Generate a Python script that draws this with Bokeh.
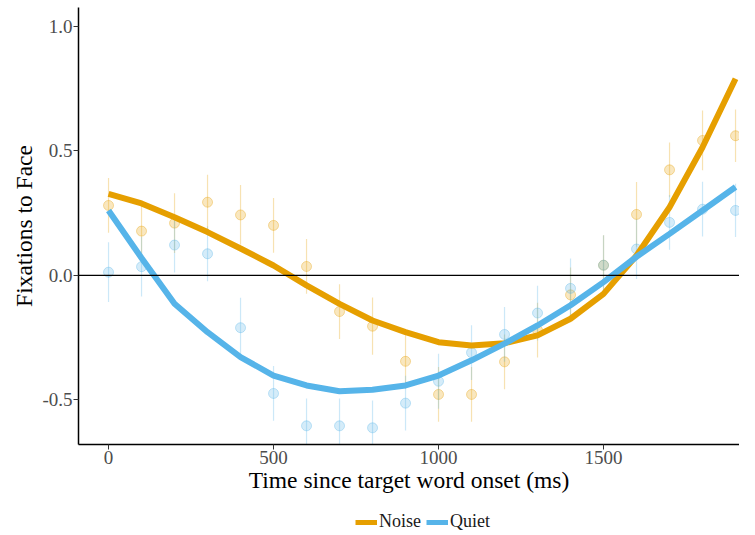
from bokeh.plotting import figure
from bokeh.layouts import column
from bokeh.models import Span, Legend, LegendItem, FixedTicker, ColumnDataSource, Range1d
from bokeh.embed import file_html
from bokeh.resources import INLINE

# ---- data ----
time_ms = [0, 100, 200, 300, 400, 500, 600, 700, 800, 900,
           1000, 1100, 1200, 1300, 1400, 1500, 1600, 1700, 1800, 1900]

noise_mean = [0.281, 0.178, 0.210, 0.294, 0.243, 0.201, 0.036, -0.145, -0.204, -0.345,
              -0.478, -0.478, -0.347, -0.220, -0.078, 0.041, 0.245, 0.424, 0.542, 0.561]
noise_se = [0.11, 0.12, 0.12, 0.11, 0.12, 0.11, 0.11, 0.11, 0.115, 0.11,
            0.11, 0.11, 0.11, 0.11, 0.11, 0.12, 0.13, 0.11, 0.12, 0.105]

quiet_mean = [0.013, 0.035, 0.122, 0.087, -0.210, -0.474, -0.604, -0.604, -0.612, -0.513,
              -0.425, -0.310, -0.237, -0.151, -0.052, 0.041, 0.106, 0.213, 0.266, 0.261]
quiet_se = [0.12, 0.12, 0.11, 0.11, 0.12, 0.11, 0.11, 0.11, 0.11, 0.11,
            0.11, 0.11, 0.11, 0.11, 0.12, 0.12, 0.12, 0.11, 0.11, 0.107]

noise_fit = [0.328, 0.289, 0.234, 0.174, 0.108, 0.040, -0.040, -0.114, -0.181, -0.228,
             -0.268, -0.281, -0.272, -0.241, -0.174, -0.074, 0.080, 0.274, 0.515, 0.790]
quiet_fit = [0.261, 0.070, -0.114, -0.228, -0.328, -0.402, -0.442, -0.465, -0.459, -0.442,
             -0.402, -0.341, -0.274, -0.201, -0.120, -0.027, 0.075, 0.167, 0.261, 0.355]

series_names = ["Noise", "Quiet"]
y_ticks = [-0.5, 0.0, 0.5, 1.0]
y_tick_labels = ["-0.5", "0.0", "0.5", "1.0"]
x_ticks = [0, 500, 1000, 1500]

ORANGE = "#E69F00"
BLUE = "#56B4E9"
COLORS = {"Noise": ORANGE, "Quiet": BLUE}
SERIF = "Liberation Serif"

p = figure(width=739, height=500, output_backend="svg", toolbar_location=None,
           x_range=Range1d(-91, 1912), y_range=Range1d(-0.679, 1.076),
           min_border_left=78, min_border_right=0, min_border_top=7, min_border_bottom=56)

p.background_fill_color = "white"
p.border_fill_color = "white"
p.outline_line_color = None
p.xgrid.grid_line_color = None
p.ygrid.grid_line_color = None

sources = {}
for name, mean, se, fit in [("Noise", noise_mean, noise_se, noise_fit),
                            ("Quiet", quiet_mean, quiet_se, quiet_fit)]:
    col = COLORS[name]
    src = ColumnDataSource(dict(
        x=time_ms, y=mean,
        lo=[m - s for m, s in zip(mean, se)],
        hi=[m + s for m, s in zip(mean, se)],
        fit=fit))
    p.segment(x0="x", y0="lo", x1="x", y1="hi", source=src,
              line_color=col, line_alpha=0.3, line_width=1.2)
    p.scatter(x="x", y="y", source=src, size=10, fill_color=col, fill_alpha=0.25,
              line_color=col, line_alpha=0.35, line_width=1)
    sources[name] = src

p.add_layout(Span(location=0, dimension="width", line_color="black", line_width=1.2))

for name in series_names:
    p.line(x="x", y="fit", source=sources[name], line_color=COLORS[name], line_width=6)

# axes
for ax in (p.xaxis[0], p.yaxis[0]):
    ax.axis_line_color = "black"
    ax.axis_line_width = 1.5
    ax.major_tick_line_color = "#333333"
    ax.major_tick_out = 5
    ax.major_tick_in = 0
    ax.minor_tick_line_color = None
    ax.major_label_text_font = SERIF
    ax.major_label_text_font_size = "19px"
    ax.major_label_text_color = "#4D4D4D"
    ax.axis_label_text_font = SERIF
    ax.axis_label_text_font_size = "23.5px"
    ax.axis_label_text_font_style = "normal"
    ax.axis_label_text_color = "black"

p.xaxis.ticker = FixedTicker(ticks=x_ticks)
p.yaxis.ticker = FixedTicker(ticks=y_ticks)
p.yaxis.major_label_overrides = {t: l for t, l in zip(y_ticks, y_tick_labels)}
p.xaxis.axis_label = "Time since target word onset (ms)"
p.yaxis.axis_label = "Fixations to Face"
p.xaxis.major_label_standoff = 1
p.xaxis.axis_label_standoff = 0
p.yaxis.major_label_standoff = 1
p.yaxis.axis_label_standoff = 2

# legend strip below the plot (key lines sit outside this strip's ranges)
leg_fig = figure(width=739, height=35, output_backend="svg", toolbar_location=None,
                 x_range=Range1d(0, 1), y_range=Range1d(0, 1),
                 min_border_left=0, min_border_right=0, min_border_top=0, min_border_bottom=0)
leg_fig.axis.visible = False
leg_fig.grid.visible = False
leg_fig.outline_line_color = None
leg_fig.background_fill_color = "white"
leg_fig.border_fill_color = "white"
key_rs = [leg_fig.line(x=[5, 6], y=[5, 6], line_color=COLORS[n], line_width=5) for n in series_names]
legend = Legend(items=[LegendItem(label=n, renderers=[r]) for n, r in zip(series_names, key_rs)],
                orientation="horizontal", location=(277, 3),
                label_text_font=SERIF, label_text_font_size="18px", label_text_color="#1A1A1A",
                glyph_width=22, glyph_height=16, label_standoff=2, spacing=5,
                padding=1, margin=0, border_line_color=None, background_fill_alpha=0)
leg_fig.add_layout(legend)

layout = column(p, leg_fig, spacing=0)
open("out.html", "w").write(file_html(layout, INLINE))
